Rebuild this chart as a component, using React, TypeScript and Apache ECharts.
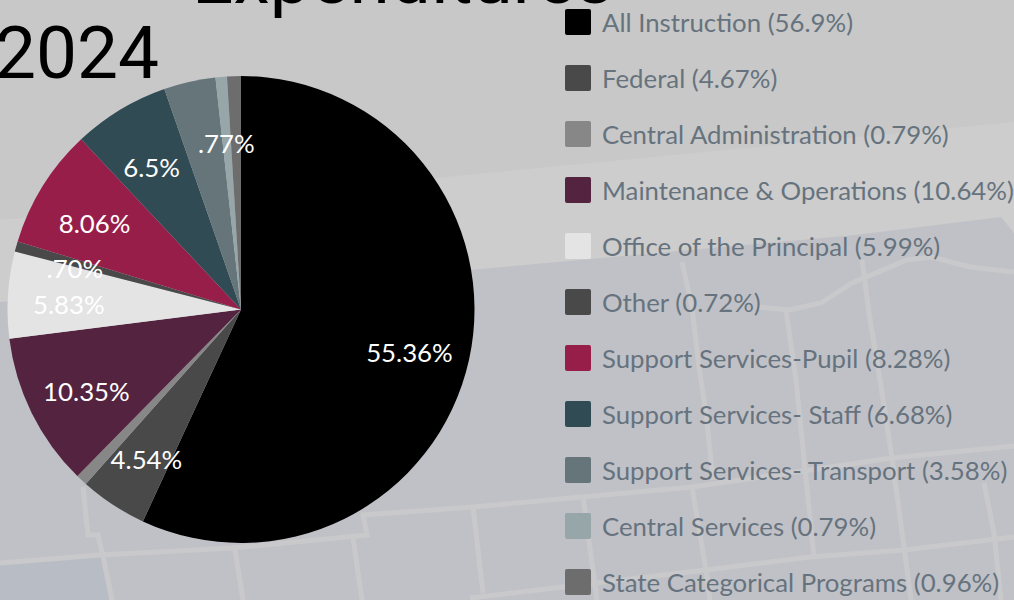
import React, { useEffect, useRef } from "react";
import * as echarts from "echarts";

const categories = ["All Instruction", "Federal", "Central Administration", "Maintenance & Operations", "Office of the Principal", "Other", "Support Services-Pupil", "Support Services- Staff", "Support Services- Transport", "Central Services", "State Categorical Programs"];
const values = [55.36, 4.54, 0.77, 10.35, 5.83, 0.7, 8.06, 6.5, 3.48, 0.77, 0.93];
const sliceLabels = ["55.36%", "4.54%", "", "10.35%", "5.83%", ".70%", "8.06%", "6.5%", "", ".77%", ""];
const legendShares = ["56.9", "4.67", "0.79", "10.64", "5.99", "0.72", "8.28", "6.68", "3.58", "0.79", "0.96"];
const colors = ["#000000", "#494949", "#878787", "#54233f", "#e4e4e4", "#494949", "#981e4a", "#304b53", "#657579", "#96a6a9", "#6d6d6d"];

const FONT = "Lato";
const ICON = "path://M2 0H24A2 2 0 0 1 26 2V24A2 2 0 0 1 24 26H2A2 2 0 0 1 0 24V2A2 2 0 0 1 2 0Z";
const LINE = "#c9c9cb";
const mapLines: number[][][] = [
  [[0, 563], [100, 555], [233, 548], [367, 535], [363, 515], [473, 507], [692, 487], [892, 458], [1014, 446]],
  [[470, 598], [706, 570], [810, 557], [904, 550], [1014, 537]],
  [[83, 487], [88, 535], [98, 535], [103, 556], [112, 600]],
  [[235, 550], [243, 600]],
  [[353, 538], [362, 600]],
  [[473, 507], [483, 593]],
  [[583, 497], [597, 600]],
  [[682, 262], [692, 307], [699, 367], [706, 413], [713, 480]],
  [[692, 487], [706, 570], [710, 600]],
  [[786, 310], [796, 380], [814, 557]],
  [[862, 260], [869, 313], [880, 380], [892, 458], [904, 547], [911, 600]],
  [[984, 483], [994, 533], [1001, 600]],
  [[758, 307], [789, 310], [821, 303], [852, 283], [907, 260], [932, 257], [970, 267], [1014, 272]],
];

export default function App() {
  const ref = useRef<HTMLDivElement>(null);
  useEffect(() => {
    document.body.style.margin = "0";
    const chart = echarts.init(ref.current!, undefined, { renderer: "svg" });
    const data = categories.map((name, i) => ({ name, value: values[i], itemStyle: { color: colors[i] } }));
    chart.setOption({
      animation: false,
      backgroundColor: "#c8c8c8",
      graphic: [
        { type: "polygon", z: -2, silent: true, shape: { points: [[0, 220], [1014, 122], [1014, 600], [0, 600]] }, style: { fill: "#cdcdcd" } },
        { type: "polygon", z: -2, silent: true, shape: { points: [[0, 302], [470, 270], [855, 235], [1001, 217], [1014, 233], [1014, 600], [0, 600]] }, style: { fill: "#c0c1c6" } },
        { type: "polygon", z: -2, silent: true, shape: { points: [[0, 563], [103, 556], [112, 600], [0, 600]] }, style: { fill: "#b8bdc5" } },
        ...mapLines.map((pts) => ({ type: "polyline", z: -1, silent: true, shape: { points: pts }, style: { stroke: LINE, lineWidth: 5, fill: "none" } })),
        { type: "text", left: 192, top: -59, z: 5, style: { text: "Expenditures", fill: "#000", font: "400 73px Roboto", textAlign: "right" } },
        { type: "text", left: -5, top: 16, z: 5, style: { text: "2024", fill: "#000", font: "400 73px Roboto" } },
      ],
      legend: {
        orient: "vertical",
        left: 565,
        top: 9,
        height: 640,
        padding: 0,
        itemWidth: 26,
        itemHeight: 26,
        itemGap: 30,
        icon: ICON,
        selectedMode: false,
        textStyle: { fontFamily: FONT, fontSize: 25.8, color: "#66737e", padding: [2, 0, 0, 6] },
        formatter: (name: string) => `${name} (${legendShares[categories.indexOf(name)]}%)`,
        data: categories,
      },
      series: [
        {
          type: "pie",
          center: [241, 309.5],
          radius: [0, 233.5],
          startAngle: 90,
          clockwise: true,
          data,
          label: { show: false },
          labelLine: { show: false },
          silent: true,
          itemStyle: { borderWidth: 0 },
        },
        {
          type: "pie",
          center: [241, 309.5],
          radius: [105.5, 233.5],
          startAngle: 90,
          clockwise: true,
          avoidLabelOverlap: false,
          silent: true,
          legendHoverLink: false,
          data: categories.map((name, i) => ({ name: name, value: values[i], itemStyle: { color: "transparent" } })),
          label: {
            show: true,
            position: "inside",
            rotate: 0,
            offset: [0, 5],
            color: "#ffffff",
            fontFamily: FONT,
            fontSize: 25.8,
            formatter: (p: any) => sliceLabels[p.dataIndex],
          },
          labelLine: { show: false },
        },
      ],
    });
    return () => chart.dispose();
  }, []);
  return <div ref={ref} style={{ width: 1014, height: 600 }} />;
}
